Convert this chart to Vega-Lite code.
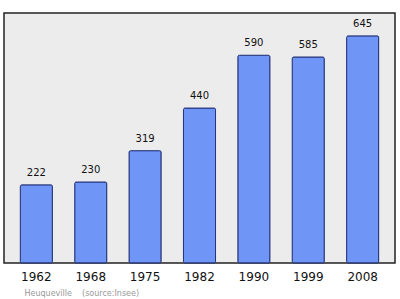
{
  "$schema": "https://vega.github.io/schema/vega-lite/v6.json",
  "width": 391,
  "height": 250,
  "autosize": {"type": "none"},
  "padding": {"left": 4, "top": 13, "right": 5, "bottom": 36},
  "background": "white",
  "data": {
    "values": [
      {"year": "1962", "population": 222},
      {"year": "1968", "population": 230},
      {"year": "1975", "population": 319},
      {"year": "1982", "population": 440},
      {"year": "1990", "population": 590},
      {"year": "1999", "population": 585},
      {"year": "2008", "population": 645}
    ]
  },
  "config": {
    "view": {"fill": "#ececec", "stroke": "#222222", "strokeWidth": 1.5},
    "font": "DejaVu Sans"
  },
  "encoding": {
    "x": {
      "field": "year",
      "type": "ordinal",
      "scale": {"paddingInner": 0.41, "paddingOuter": 0.3},
      "axis": {
        "title": "Heuqueville\u00a0\u00a0\u00a0\u00a0(source:Insee)",
        "titleFontSize": 8,
        "titleFontWeight": "normal",
        "titleColor": "#999999",
        "titleAlign": "left",
        "titleAnchor": "start",
        "titleBaseline": "alphabetic",
        "titleX": 20,
        "titleY": 32,
        "labelAngle": 0,
        "labelFontSize": 12,
        "labelColor": "#111111",
        "labelPadding": 8,
        "ticks": false,
        "domain": false
      }
    },
    "y": {
      "field": "population",
      "type": "quantitative",
      "scale": {"domain": [0, 710]},
      "axis": null
    }
  },
  "layer": [
    {
      "mark": {
        "type": "bar",
        "fill": "#6f96f7",
        "stroke": "#23337a",
        "strokeWidth": 1,
        "cornerRadius": 1.5
      }
    },
    {
      "mark": {
        "type": "text",
        "dy": -12,
        "fontSize": 10,
        "color": "#111111"
      },
      "encoding": {"text": {"field": "population", "type": "quantitative"}}
    }
  ]
}
